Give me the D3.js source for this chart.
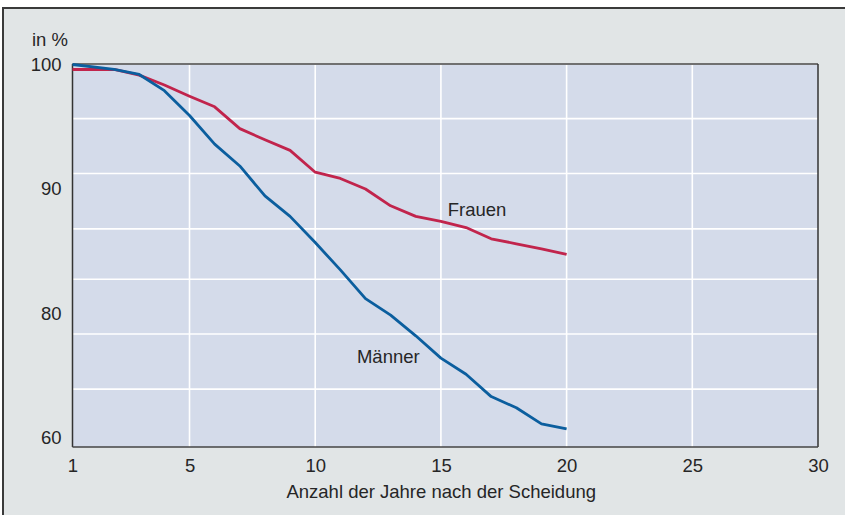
<!DOCTYPE html>
<html><head><meta charset="utf-8">
<script src="https://cdn.jsdelivr.net/npm/d3@7"></script>
<style>
html,body{margin:0;padding:0;background:#fff;}
svg{display:block;}
text{font-family:"Liberation Sans",Arial,Helvetica,sans-serif;fill:#262626;}
</style></head>
<body>
<script>
// ---- data ----
const years = [1,2,3,4,5,6,7,8,9,10,11,12,13,14,15,16,17,18,19,20];
const maenner = [100,99.6,99.2,97.9,95.9,93.6,91.85,89.45,87.8,85.7,83.5,81.2,79.75,76.4,72.8,70.2,66.6,64.8,62.2,61.4];
const frauen  = [99.6,99.6,99.15,98.35,97.45,96.6,94.85,93.95,93.1,91.35,90.85,90.0,88.65,87.8,87.4,86.9,86.0,85.6,85.2,84.75];
const xTicks = [1,5,10,15,20,25,30];
const yTicks = [100,90,80,60];
const yGrid = [95.65,91.25,86.8,82.75,76.7,67.8];
const seriesNames = ["Männer","Frauen"];
const yUnit = "in %";
const xTitle = "Anzahl der Jahre nach der Scheidung";

const W = 845, H = 515;
const L = 72.5, T = 64, R = 818, B = 447;
const FS = 18.5;

const svg = d3.select("body").append("svg").attr("width",W).attr("height",H);

// outer frame
svg.append("rect").attr("x",3).attr("y",8).attr("width",W+10).attr("height",H+10)
  .attr("fill","#e1e5e6").attr("stroke","#3a3a3a").attr("stroke-width",2);

const x = d3.scaleLinear().domain([1,2,30]).range([L,114.1,R]);
const y = d3.scaleLinear().domain([100,80,60]).range([64.5,313.5,437.5]);

// plot area
svg.append("rect").attr("x",L).attr("y",T).attr("width",R-L).attr("height",B-T).attr("fill","#d4dbea");

// grid
svg.append("g").selectAll("line").data(yGrid).join("line")
  .attr("x1",L).attr("x2",R).attr("y1",d=>y(d)).attr("y2",d=>y(d))
  .attr("stroke","#fff").attr("stroke-width",1.6);
svg.append("g").selectAll("line").data(xTicks.filter(d=>d>1&&d<30)).join("line")
  .attr("x1",d=>x(d)).attr("x2",d=>x(d)).attr("y1",T).attr("y2",B)
  .attr("stroke","#fff").attr("stroke-width",1.6);

// borders
svg.append("line").attr("x1",L).attr("x2",R).attr("y1",T).attr("y2",T).attr("stroke","#707070").attr("stroke-width",2);
svg.append("line").attr("x1",R).attr("x2",R).attr("y1",T).attr("y2",B).attr("stroke","#333").attr("stroke-width",1.5);
svg.append("line").attr("x1",L).attr("x2",L).attr("y1",T).attr("y2",B).attr("stroke","#333").attr("stroke-width",1.5);
svg.append("line").attr("x1",L).attr("x2",R).attr("y1",B).attr("y2",B).attr("stroke","#444").attr("stroke-width",1.5);

// axes labels via d3 axes (no domain / ticks lines)
const xAxis = svg.append("g").attr("transform",`translate(0,${B})`)
  .call(d3.axisBottom(x).tickValues(xTicks).tickSize(0).tickPadding(12).tickFormat(d3.format("d")));
const yAxis = svg.append("g").attr("transform",`translate(${L},0)`)
  .call(d3.axisLeft(y).tickValues(yTicks).tickSize(0).tickPadding(11).tickFormat(d3.format("d")));
[xAxis,yAxis].forEach(g=>{
  g.select(".domain").remove();
  g.selectAll("text").attr("font-size",FS).attr("fill","#262626")
    .attr("font-family","'Liberation Sans',Arial,sans-serif");
});

svg.append("text").attr("x",32).attr("y",46).attr("font-size",FS).text(yUnit);
svg.append("text").attr("x",(L+R)/2 - 4).attr("y",498).attr("text-anchor","middle").attr("font-size",FS).text(xTitle);

// lines
const line = d3.line().x((d,i)=>x(years[i])).y(d=>y(d));
svg.append("path").datum(frauen).attr("d",line).attr("fill","none")
  .attr("stroke","#c1244c").attr("stroke-width",2.8).attr("stroke-linejoin","round");
svg.append("path").datum(maenner).attr("d",line).attr("fill","none")
  .attr("stroke","#0b5e9e").attr("stroke-width",2.8).attr("stroke-linejoin","round");

// series labels
svg.append("text").attr("x",x(15.27)).attr("y",y(87.85)).attr("font-size",FS).text(seriesNames[1]);
svg.append("text").attr("x",x(11.66)).attr("y",y(72)).attr("font-size",FS).text(seriesNames[0]);
</script>
</body></html>
